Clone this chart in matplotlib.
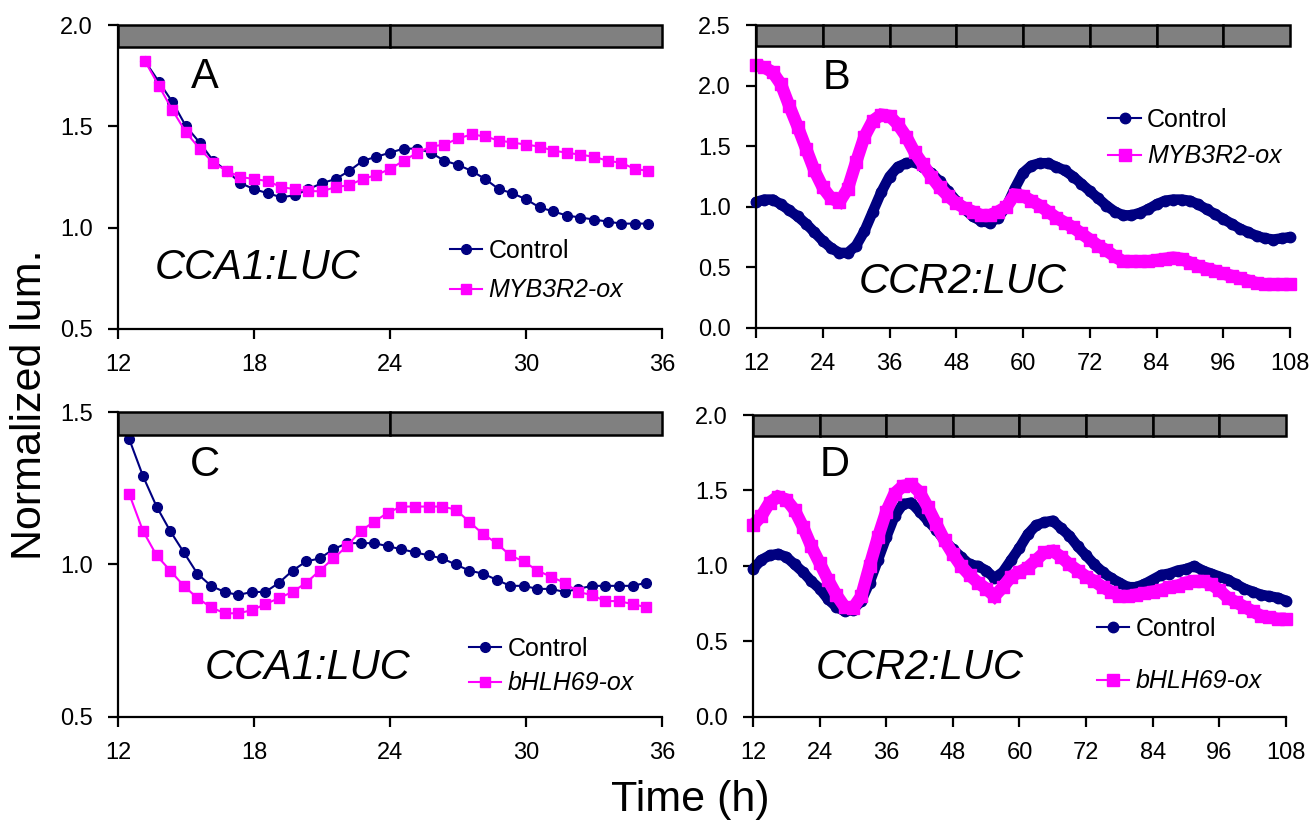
import numpy as np
import matplotlib
matplotlib.use("Agg")
import matplotlib.pyplot as plt

plt.rcParams['font.family'] = ['Liberation Sans', 'DejaVu Sans']

NAVY = "#000080"
MAGENTA = "#FF00FF"

# ---- panel A: CCA1:LUC, Control vs MYB3R2-ox (sampled every 0.6 h from 13.2 h)
a_start, a_step = 13.2, 0.6
a_control = [1.82, 1.72, 1.62, 1.50, 1.42, 1.33, 1.28, 1.22, 1.19, 1.17,
             1.15, 1.16, 1.19, 1.22, 1.24, 1.28, 1.33, 1.35, 1.37, 1.39,
             1.39, 1.37, 1.33, 1.31, 1.28, 1.24, 1.19, 1.17, 1.14, 1.10,
             1.08, 1.06, 1.05, 1.04, 1.03, 1.02, 1.02, 1.02]
a_ox = [1.82, 1.70, 1.58, 1.47, 1.39, 1.32, 1.28, 1.25, 1.24, 1.23,
        1.20, 1.19, 1.18, 1.18, 1.20, 1.21, 1.24, 1.26, 1.29, 1.33,
        1.37, 1.40, 1.41, 1.44, 1.46, 1.45, 1.43, 1.42, 1.41, 1.40,
        1.38, 1.37, 1.36, 1.35, 1.33, 1.32, 1.29, 1.28]

# ---- panel C: CCA1:LUC, Control vs bHLH69-ox (every 0.6 h from 12.5 h)
c_start, c_step = 12.5, 0.6
c_control = [1.41, 1.29, 1.19, 1.11, 1.04, 0.97, 0.93, 0.91, 0.90, 0.91,
             0.91, 0.94, 0.98, 1.01, 1.02, 1.05, 1.07, 1.07, 1.07, 1.06,
             1.05, 1.04, 1.03, 1.02, 1.00, 0.98, 0.97, 0.95, 0.93, 0.93,
             0.92, 0.92, 0.91, 0.92, 0.93, 0.93, 0.93, 0.93, 0.94]
c_ox = [1.23, 1.11, 1.03, 0.98, 0.93, 0.89, 0.86, 0.84, 0.84, 0.85,
        0.87, 0.89, 0.91, 0.94, 0.98, 1.02, 1.06, 1.11, 1.14, 1.17,
        1.19, 1.19, 1.19, 1.19, 1.18, 1.14, 1.10, 1.07, 1.03, 1.01,
        0.98, 0.96, 0.94, 0.91, 0.90, 0.88, 0.88, 0.87, 0.86]

# ---- panels B and D: CCR2:LUC, read every 1.5 h from 12 h to 108 h
bd_start, bd_step = 12.0, 1.5
b_control = [1.04, 1.06, 1.06, 1.02, 0.97, 0.92, 0.86, 0.79, 0.72, 0.66,
             0.62, 0.62, 0.68, 0.80, 0.96, 1.12, 1.25, 1.33, 1.36, 1.37,
             1.33, 1.28, 1.21, 1.13, 1.05, 0.98, 0.92, 0.88, 0.87, 0.91,
             1.00, 1.15, 1.28, 1.34, 1.36, 1.36, 1.33, 1.30, 1.25, 1.19,
             1.13, 1.07, 1.01, 0.96, 0.93, 0.93, 0.95, 0.98, 1.02, 1.05,
             1.06, 1.06, 1.05, 1.02, 0.98, 0.94, 0.90, 0.86, 0.82, 0.79,
             0.76, 0.74, 0.73, 0.74, 0.75]
b_ox = [2.17, 2.15, 2.11, 2.01, 1.83, 1.66, 1.48, 1.30, 1.16, 1.07,
        1.04, 1.15, 1.37, 1.58, 1.71, 1.76, 1.75, 1.68, 1.58, 1.45,
        1.35, 1.25, 1.16, 1.09, 1.03, 0.99, 0.96, 0.93, 0.93, 0.96,
        1.00, 1.10, 1.09, 1.05, 1.01, 0.96, 0.91, 0.87, 0.83, 0.78,
        0.73, 0.68, 0.64, 0.59, 0.55, 0.55, 0.55, 0.55, 0.56, 0.57,
        0.58, 0.57, 0.54, 0.51, 0.49, 0.47, 0.45, 0.43, 0.41, 0.39,
        0.37, 0.36, 0.36, 0.36, 0.36]
d_control = [0.98, 1.04, 1.07, 1.08, 1.06, 1.01, 0.96, 0.90, 0.85, 0.78,
             0.73, 0.70, 0.71, 0.77, 0.89, 1.04, 1.19, 1.33, 1.41, 1.42,
             1.36, 1.30, 1.24, 1.17, 1.11, 1.06, 1.01, 1.00, 0.97, 0.92,
             0.96, 1.04, 1.12, 1.21, 1.27, 1.29, 1.30, 1.25, 1.20, 1.13,
             1.07, 1.01, 0.96, 0.92, 0.89, 0.86, 0.86, 0.88, 0.91, 0.94,
             0.95, 0.97, 0.98, 1.00, 0.97, 0.95, 0.93, 0.91, 0.88, 0.85,
             0.83, 0.81, 0.80, 0.79, 0.77]
d_ox = [1.27, 1.33, 1.42, 1.46, 1.44, 1.37, 1.26, 1.13, 1.02, 0.91,
        0.81, 0.73, 0.72, 0.80, 1.00, 1.19, 1.36, 1.48, 1.53, 1.54,
        1.49, 1.39, 1.28, 1.17, 1.08, 1.00, 0.94, 0.89, 0.85, 0.80,
        0.86, 0.93, 0.96, 0.99, 1.04, 1.09, 1.10, 1.06, 1.01, 0.97,
        0.93, 0.90, 0.86, 0.83, 0.80, 0.80, 0.81, 0.82, 0.83, 0.84,
        0.86, 0.87, 0.89, 0.90, 0.90, 0.88, 0.84, 0.79, 0.76, 0.73,
        0.70, 0.67, 0.66, 0.65, 0.65]

# light/dark bar boundaries (h)
days_short = [12, 24]
days_long = [12, 24, 36, 48, 60, 72, 84, 96]
day_len = 12

panels = [
    dict(letter="A", gene="CCA1:LUC", ox="MYB3R2-ox", ctrl=a_control, oxv=a_ox,
         start=a_start, step=a_step, xlim=(12, 36), xticks=[12, 18, 24, 30, 36],
         ylim=(0.5, 2.0), yticks=[0.5, 1.0, 1.5, 2.0], bar=1.89, days=days_short,
         pos=[0.0899, 0.6041, 0.4143, 0.3658], letter_xy=(0.16, 0.83),
         gene_xy=(0.257, 0.20), leg=(0.61, 0.192), legsp=0.62, ms=(7, 7.5), dense=False),
    dict(letter="B", gene="CCR2:LUC", ox="MYB3R2-ox", ctrl=b_control, oxv=b_ox,
         start=bd_start, step=bd_step, xlim=(12, 108), xticks=list(range(12, 109, 12)),
         ylim=(0.0, 2.5), yticks=[0.0, 0.5, 1.0, 1.5, 2.0, 2.5], bar=2.33, days=days_long,
         pos=[0.5758, 0.6053, 0.4067, 0.3646], letter_xy=(0.15, 0.825),
         gene_xy=(0.386, 0.152), leg=(0.66, 0.627), legsp=0.5, ms=(7.5, 9), dense=True),
    dict(letter="C", gene="CCA1:LUC", ox="bHLH69-ox", ctrl=c_control, oxv=c_ox,
         start=c_start, step=c_step, xlim=(12, 36), xticks=[12, 18, 24, 30, 36],
         ylim=(0.5, 1.5), yticks=[0.5, 1.0, 1.5], bar=1.425, days=days_short,
         pos=[0.0899, 0.1372, 0.4143, 0.3670], letter_xy=(0.16, 0.826),
         gene_xy=(0.349, 0.16), leg=(0.645, 0.167), legsp=0.42, ms=(7, 7.5), dense=False),
    dict(letter="D", gene="CCR2:LUC", ox="bHLH69-ox", ctrl=d_control, oxv=d_ox,
         start=bd_start, step=bd_step, xlim=(12, 108), xticks=list(range(12, 109, 12)),
         ylim=(0.0, 2.0), yticks=[0.0, 0.5, 1.0, 1.5, 2.0], bar=1.86, days=days_long,
         pos=[0.5735, 0.1372, 0.4059, 0.3634], letter_xy=(0.154, 0.834),
         gene_xy=(0.313, 0.162), leg=(0.645, 0.205), legsp=1.15, ms=(7.5, 9), dense=True),
]

fig = plt.figure(figsize=(13.13, 8.31), dpi=100)

for p in panels:
    ax = fig.add_axes(p["pos"])
    t_ctrl = p["start"] + p["step"] * np.arange(len(p["ctrl"]))
    t_ox = p["start"] + p["step"] * np.arange(len(p["oxv"]))
    if p["dense"]:
        # dense recordings: markers merge into a continuous band
        ax.plot(t_ctrl, p["ctrl"], color=NAVY, lw=p["ms"][0],
                solid_capstyle="round", solid_joinstyle="round", clip_on=False)
        ax.plot(t_ox, p["oxv"], color=MAGENTA, lw=p["ms"][1],
                solid_capstyle="butt", solid_joinstyle="miter", clip_on=False, zorder=2.1)
    ax.plot(t_ctrl, p["ctrl"], color=NAVY, marker="o", ms=p["ms"][0], lw=1.5,
            label="Control", clip_on=False)
    ax.plot(t_ox, p["oxv"], color=MAGENTA, marker="s", ms=p["ms"][1], lw=1.5,
            label=p["ox"], clip_on=False, zorder=2.2)

    # light/dark bar on top
    top = p["ylim"][1]
    ax.bar(p["days"], top - p["bar"], width=day_len, bottom=p["bar"], align="edge",
           color="#808080", edgecolor="black", linewidth=1.8, clip_on=False, zorder=3)

    ax.set_xlim(*p["xlim"])
    ax.set_ylim(*p["ylim"])
    ax.set_xticks(p["xticks"])
    ax.set_yticks(p["yticks"])
    ax.set_yticklabels(["%.1f" % v for v in p["yticks"]])
    ax.spines["top"].set_visible(False)
    ax.spines["right"].set_visible(False)
    for s in ("left", "bottom"):
        ax.spines[s].set_linewidth(1.6)
    ax.tick_params(direction="out", length=7, width=1.6, labelsize=17)
    ax.tick_params(axis="x", pad=11)
    ax.tick_params(axis="y", pad=11)

    ax.text(*p["letter_xy"], p["letter"], transform=ax.transAxes, fontsize=30,
            ha="center", va="center")
    ax.text(*p["gene_xy"], p["gene"], transform=ax.transAxes, fontsize=30,
            style="italic", ha="center", va="center")

    leg = ax.legend(loc="center left", bbox_to_anchor=p["leg"], frameon=False,
                    fontsize=18, handlelength=1.3, handletextpad=0.25,
                    borderpad=0, borderaxespad=0, labelspacing=p["legsp"],
                    numpoints=1)
    leg.get_texts()[1].set_fontstyle("italic")

fig.text(30 / 1313, 1 - 405 / 831, "Normalized lum.", rotation=90, fontsize=31,
         ha="center", va="center")
fig.text(690 / 1313, 1 - 800 / 831, "Time (h)", fontsize=31, ha="center", va="center")

fig.savefig("out.png", dpi=100)
